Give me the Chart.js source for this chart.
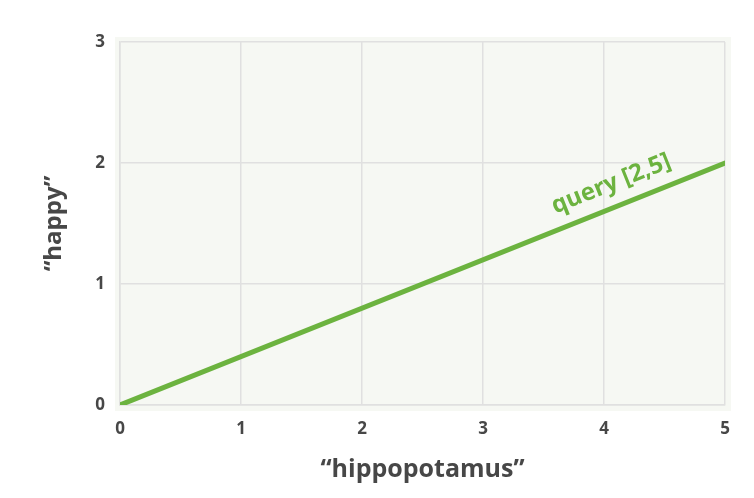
<!DOCTYPE html>
<html>
<head>
<meta charset="utf-8">
<script src="https://cdn.jsdelivr.net/npm/chart.js@4"></script>
<style>
  html, body { margin: 0; padding: 0; background: #ffffff; }
  #wrap { width: 754px; height: 498px; }
</style>
</head>
<body>
<div id="wrap"><canvas id="chart" width="754" height="498"></canvas></div>
<script>
// data
const lineX = [0, 5];
const lineY = [0, 2];
const xRange = [0, 5];
const yRange = [0, 3];
const xTitle = '\u201chippopotamus\u201d';
const yTitle = '\u201chappy\u201d';
const lineLabel = 'query [2,5]';
const labelAt = 4.13;   // x value where the label sits on the line

const green = '#6cb33f';
const textColor = '#474747';

/* Plot background, a bit bigger than the grid */
const bgPlugin = {
    id: 'plot_bg',
    beforeDraw: (chart) => {
        const ctx = chart.ctx;
        const a = chart.chartArea;
        ctx.save();
        ctx.fillStyle = '#f6f8f3';
        ctx.fillRect(a.left - 5, a.top - 5, a.right - a.left + 11, a.bottom - a.top + 11);
        ctx.restore();
    }
};

/* Rotated text along the line */
const labelPlugin = {
    id: 'line_label',
    afterDatasetsDraw: (chart) => {
        const ctx = chart.ctx;
        const xs = chart.scales.x, ys = chart.scales.y;
        const x0 = xs.getPixelForValue(lineX[0]), y0 = ys.getPixelForValue(lineY[0]);
        const x1 = xs.getPixelForValue(lineX[1]), y1 = ys.getPixelForValue(lineY[1]);
        const ang = Math.atan2(y1 - y0, x1 - x0);
        const t = (labelAt - lineX[0]) / (lineX[1] - lineX[0]);
        const px = x0 + (x1 - x0) * t;
        const py = y0 + (y1 - y0) * t;
        ctx.save();
        ctx.translate(px, py);
        ctx.rotate(ang);
        ctx.fillStyle = green;
        ctx.font = 'bold 24px "Open Sans"';
        ctx.textAlign = 'center';
        ctx.textBaseline = 'alphabetic';
        ctx.fillText(lineLabel, 0, -16);
        ctx.restore();
    }
};

const config = {
    type: 'scatter',
    data: {
        datasets: [{
            data: lineX.map((x, i) => ({ x: x, y: lineY[i] })),
            showLine: true,
            borderColor: green,
            borderWidth: 5,
            borderCapStyle: 'round',
            pointRadius: 0,
            fill: false
        }]
    },
    options: {
        responsive: false,
        animation: false,
        layout: { padding: { top: 42, right: 29, left: 0, bottom: 0 } },
        plugins: { legend: { display: false }, tooltip: { enabled: false } },
        scales: {
            x: {
                type: 'linear',
                min: xRange[0], max: xRange[1],
                afterFit: (s) => { s.height = 93; },
                grid: { color: '#e0e0e0', lineWidth: 1.5, drawTicks: false },
                border: { color: '#e0e0e0', width: 1.5 },
                ticks: { stepSize: 1, padding: 14, color: textColor, font: { family: 'Open Sans', size: 17, weight: 'bold' } },
                title: { display: true, text: xTitle, color: textColor, padding: { top: 0, bottom: 13 },
                    font: { family: 'Open Sans', size: 25, weight: 'bold' } }
            },
            y: {
                type: 'linear',
                min: yRange[0], max: yRange[1],
                afterFit: (s) => { s.width = 120; },
                grid: { color: '#e0e0e0', lineWidth: 1.5, drawTicks: false },
                border: { color: '#e0e0e0', width: 1.5 },
                ticks: { stepSize: 1, padding: 15, color: textColor, font: { family: 'Open Sans', size: 17, weight: 'bold' } },
                title: { display: true, text: yTitle, color: textColor, padding: { top: 40, bottom: 0 },
                    font: { family: 'Open Sans', size: 24, weight: 'bold' } }
            }
        }
    },
    plugins: [bgPlugin, labelPlugin]
};

new Chart(document.getElementById('chart'), config);
</script>
</body>
</html>
